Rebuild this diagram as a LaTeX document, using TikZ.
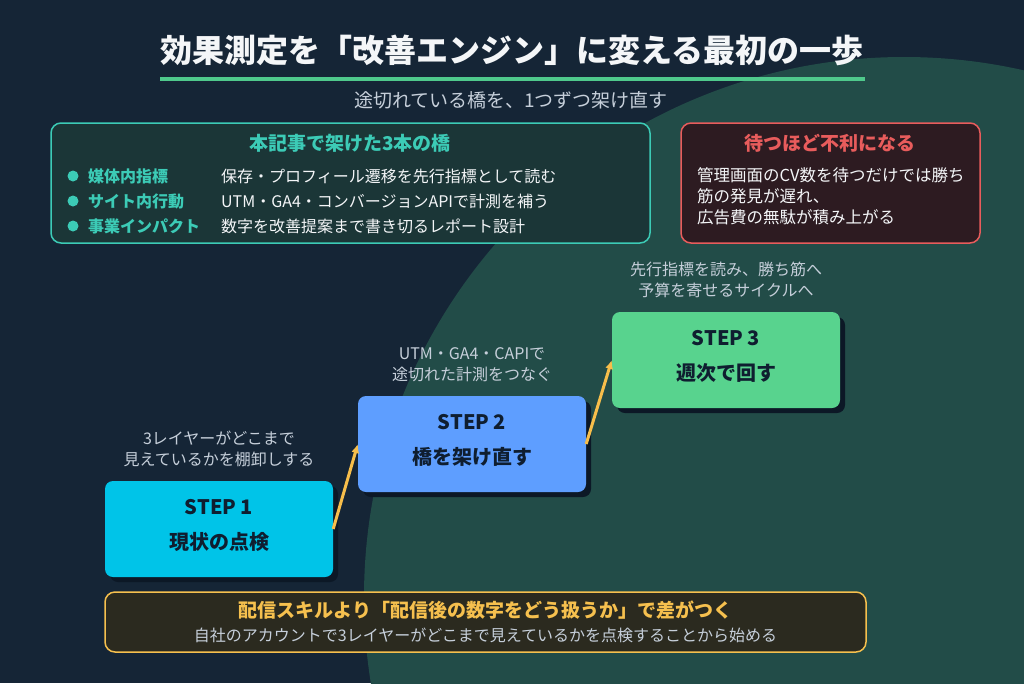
\documentclass[tikz,border=0pt]{standalone}
\usepackage{fontspec}
\setmainfont{Noto Sans CJK JP}
\usetikzlibrary{positioning,arrows.meta}

\definecolor{bgnavy}{HTML}{152536}
\definecolor{bgteal}{HTML}{224C48}
\definecolor{inkwhite}{HTML}{F4F6F8}
\definecolor{inkgray}{HTML}{C6CFDA}
\definecolor{linegreen}{HTML}{4FC98C}
\definecolor{bridgeteal}{HTML}{3CCBB6}
\definecolor{bridgefill}{HTML}{1B3637}
\definecolor{warnred}{HTML}{E85C5C}
\definecolor{warnfill}{HTML}{2D1B21}
\definecolor{keygold}{HTML}{F6C04E}
\definecolor{keyfill}{HTML}{2B2A1F}
\definecolor{stepcyan}{HTML}{00C4E8}
\definecolor{stepblue}{HTML}{5E9EFF}
\definecolor{stepgreen}{HTML}{58D38E}
\definecolor{stepink}{HTML}{0F1E30}
\definecolor{stepshadow}{HTML}{0C1826}
\definecolor{arrowgold}{HTML}{F7BE4B}

\tikzstyle{every picture}+=[>={Latex[length=9pt,width=8pt]}]
\tikzstyle{panel}=[draw, line width=1.5pt, rounded corners=10pt, inner sep=0pt]
\tikzstyle{boxhead}=[font=\fontsize{19}{24}\selectfont\bfseries, inner sep=0pt]
\tikzstyle{rowlabel}=[anchor=west, font=\fontsize{16}{20}\selectfont\bfseries, text=bridgeteal, inner sep=0pt]
\tikzstyle{rowtext}=[anchor=west, font=\fontsize{16}{20}\selectfont, text=inkwhite, inner sep=0pt]
\tikzstyle{stepbox}=[rounded corners=8pt, minimum width=228pt, minimum height=96pt, inner sep=0pt]
\tikzstyle{steptext}=[font=\fontsize{20}{35}\selectfont\bfseries, text=stepink, align=center, inner sep=0pt]
\tikzstyle{caption}=[font=\fontsize{16}{21}\selectfont, text=inkgray, align=center, inner sep=0pt]
\tikzstyle{steparrow}=[->, draw=arrowgold, line width=3pt]

\begin{document}
\begin{tikzpicture}[x=1pt, y=-1pt]
	\newcommand\bridgerow[4]{
		\fill[bridgeteal] (73,#1) circle (5.5pt) ;
		\node[rowlabel] (#2label) at (88,#1) {#3} ;
		\node[rowtext] (#2text) at (221,#1) {#4} ;
	}
	\newcommand\stepcard[6]{
		\node[stepbox, fill=stepshadow] (#1shadow) at (#2+5,#3+5) {} ;
		\node[stepbox, fill=#4] (#1) at (#2,#3) {} ;
		\node[steptext] (#1text) at ([yshift=4pt]#1.center) {STEP #5\\#6} ;
	}
	\useasboundingbox (0,0) rectangle (1024,683) ;
	\fill[bgnavy] (0,0) rectangle (1024,683) ;
	\begin{scope}
		\clip (0,0) rectangle (1024,683) ;
		\fill[bgteal] (904,597) circle (540pt) ;
	\end{scope}

	\node[font=\fontsize{32}{38}\selectfont\bfseries, text=inkwhite] (title) at (512,50) {効果測定を「改善エンジン」に変える最初の一歩} ;
	\draw[linegreen, line width=4pt] (160,79) -- (865,79) ;
	\node[font=\fontsize{19}{23}\selectfont, text=inkgray] (subtitle) at (511,100) {途切れている橋を、1つずつ架け直す} ;

	\node[panel, draw=bridgeteal, fill=bridgefill, minimum width=599pt, minimum height=120pt] (bridges) at (350.5,183) {} ;
	\node[boxhead, text=bridgeteal] (bridgeshead) at (350,143) {本記事で架けた3本の橋} ;
	\bridgerow{176}{media}{媒体内指標}{保存・プロフィール遷移を先行指標として読む}
	\bridgerow{201}{site}{サイト内行動}{UTM・GA4・コンバージョンAPIで計測を補う}
	\bridgerow{226}{impact}{事業インパクト}{数字を改善提案まで書き切るレポート設計}

	\node[panel, draw=warnred, fill=warnfill, minimum width=299pt, minimum height=120pt] (warn) at (830.5,183) {} ;
	\node[boxhead, text=warnred] (warnhead) at (830,143) {待つほど不利になる} ;
	\node[font=\fontsize{16.5}{21}\selectfont, text=inkwhite, align=left, anchor=west, inner sep=0pt] (warntext) at (697,196) {管理画面のCV数を待つだけでは勝ち\\筋の発見が遅れ、\\広告費の無駄が積み上がる} ;

	\stepcard{stepone}{219}{529}{stepcyan}{1}{現状の点検}
	\stepcard{steptwo}{472}{444}{stepblue}{2}{橋を架け直す}
	\stepcard{stepthree}{726}{360}{stepgreen}{3}{週次で回す}
	\node[caption, above=14pt of stepone] (onecap) {3レイヤーがどこまで\\見えているかを棚卸しする} ;
	\node[caption, above=14pt of steptwo] (twocap) {UTM・GA4・CAPIで\\途切れた計測をつなぐ} ;
	\node[caption, above=14pt of stepthree] (threecap) {先行指標を読み、勝ち筋へ\\予算を寄せるサイクルへ} ;
	\draw[steparrow] (stepone.east) -- (steptwo.west) ;
	\draw[steparrow] (steptwo.east) -- (stepthree.west) ;

	\node[panel, draw=keygold, fill=keyfill, minimum width=761pt, minimum height=60pt] (keynote) at (485.5,622) {} ;
	\node[boxhead, text=keygold] (keyhead) at (485.5,610) {配信スキルより「配信後の数字をどう扱うか」で差がつく} ;
	\node[font=\fontsize{16}{20}\selectfont, text=inkgray, inner sep=0pt] (keytext) at (485.5,635) {自社のアカウントで3レイヤーがどこまで見えているかを点検することから始める} ;
\end{tikzpicture}
\end{document}
